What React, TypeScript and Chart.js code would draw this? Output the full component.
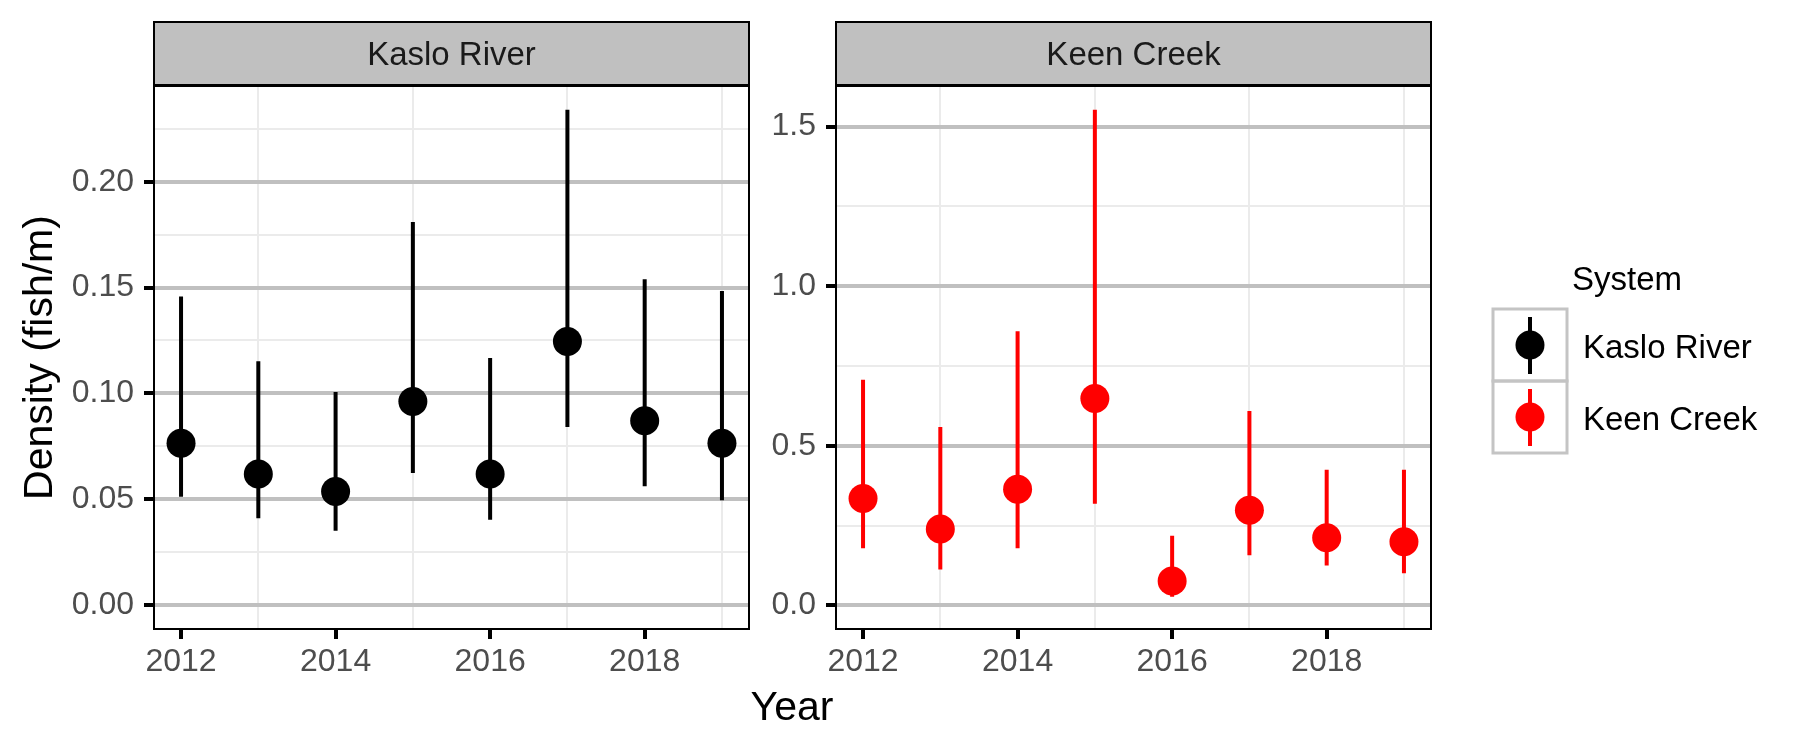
import React, { useEffect, useRef } from "react";
import { Chart, registerables } from "chart.js";

Chart.register(...registerables);

const FONT = '"Liberation Sans", Arial, Helvetica, sans-serif';

// ---- categories / ticks ----
const years = [2012, 2013, 2014, 2015, 2016, 2017, 2018, 2019];
const xTickYears = [2012, 2014, 2016, 2018];
const xTickLabels = ["2012", "2014", "2016", "2018"];

// ---- Kaslo River ----
const kasloDensity = [0.0764, 0.0619, 0.0536, 0.0962, 0.0619, 0.1245, 0.0871, 0.0764];
const kasloLower = [0.0511, 0.0409, 0.0351, 0.0623, 0.0402, 0.0841, 0.0561, 0.0495];
const kasloUpper = [0.1458, 0.1152, 0.1006, 0.181, 0.1167, 0.2341, 0.154, 0.1484];
const kasloYTicks = [0, 0.05, 0.1, 0.15, 0.2];
const kasloYTickLabels = ["0.00", "0.05", "0.10", "0.15", "0.20"];
const kasloYMinor = [0.025, 0.075, 0.125, 0.175, 0.225];

// ---- Keen Creek ----
const keenDensity = [0.335, 0.239, 0.364, 0.648, 0.076, 0.298, 0.212, 0.199];
const keenLower = [0.179, 0.112, 0.179, 0.318, 0.027, 0.157, 0.125, 0.101];
const keenUpper = [0.707, 0.559, 0.859, 1.5525, 0.218, 0.609, 0.425, 0.425];
const keenYTicks = [0, 0.5, 1, 1.5];
const keenYTickLabels = ["0.0", "0.5", "1.0", "1.5"];
const keenYMinor = [0.25, 0.75, 1.25];

// ---- legend / titles ----
const systems = ["Kaslo River", "Keen Creek"];
const systemColors = ["#000000", "#FF0000"];
const legendTitle = "System";
const xTitle = "Year";
const yTitle = "Density (fish/m)";

const near = (a: number, b: number) => Math.abs(a - b) < 1e-9;
const TRANSPARENT = "rgba(0,0,0,0)";

const panelDecor = {
  id: "panelDecor",
  afterDraw(chart: any, _args: any, opts: any) {
    const { ctx, chartArea: a } = chart;
    ctx.save();
    // strip
    ctx.fillStyle = "#C0C0C0";
    ctx.fillRect(a.left, 22, a.right - a.left, 63);
    ctx.strokeStyle = "#000";
    ctx.lineWidth = 2;
    ctx.strokeRect(a.left, 22, a.right - a.left, 63);
    ctx.fillStyle = "#1A1A1A";
    ctx.font = `33px ${FONT}`;
    ctx.textAlign = "center";
    ctx.textBaseline = "alphabetic";
    ctx.fillText(opts.title, (a.left + a.right) / 2, 65);
    // panel border
    ctx.strokeStyle = "#000";
    ctx.lineWidth = 2;
    ctx.strokeRect(a.left, a.top, a.right - a.left, a.bottom - a.top);
    ctx.restore();
  },
};

const axisTitles = {
  id: "axisTitles",
  afterDraw(chart: any) {
    const { ctx } = chart;
    ctx.save();
    ctx.fillStyle = "#000";
    ctx.font = `41px ${FONT}`;
    ctx.textAlign = "center";
    ctx.textBaseline = "alphabetic";
    ctx.fillText(xTitle, 792, 720);
    ctx.translate(52, 357.5);
    ctx.rotate(-Math.PI / 2);
    ctx.fillText(yTitle, 0, 0);
    ctx.restore();
  },
};

const legendDraw = {
  id: "legendDraw",
  afterDraw(chart: any) {
    const { ctx } = chart;
    ctx.save();
    ctx.fillStyle = "#000";
    ctx.font = `33px ${FONT}`;
    ctx.textAlign = "left";
    ctx.textBaseline = "alphabetic";
    ctx.fillText(legendTitle, 1572, 290);
    systems.forEach((name, i) => {
      const y0 = 309 + i * 72;
      ctx.strokeStyle = "#C4C4C4";
      ctx.lineWidth = 3;
      ctx.strokeRect(1493, y0, 74, 72);
      ctx.strokeStyle = systemColors[i];
      ctx.lineWidth = 4;
      ctx.beginPath();
      ctx.moveTo(1530, y0 + 8);
      ctx.lineTo(1530, y0 + 65);
      ctx.stroke();
      ctx.fillStyle = systemColors[i];
      ctx.beginPath();
      ctx.arc(1530, y0 + 36, 14.5, 0, Math.PI * 2);
      ctx.fill();
      ctx.fillStyle = "#000";
      ctx.fillText(name, 1583, y0 + 49);
    });
    ctx.restore();
  },
};

function buildConfig(p: any): any {
  const points = years.map((x, i) => ({ x, y: p.density[i] }));
  const bars = years.flatMap((x, i) => [
    { x, y: p.lower[i] },
    { x, y: p.upper[i] },
    { x, y: null },
  ]);
  const yTicks = [...p.yMajor, ...p.yMinor].sort((a: number, b: number) => a - b);
  const isMajorY = (c: any) => !!c.tick && p.yMajor.some((m: number) => near(m, c.tick.value));
  const isMajorX = (c: any) => !!c.tick && xTickYears.some((m) => near(m, c.tick.value));
  return {
    type: "scatter",
    data: {
      datasets: [
        {
          type: "scatter",
          data: points,
          backgroundColor: p.color,
          borderColor: p.color,
          pointRadius: 14.5,
          pointHoverRadius: 14.5,
          pointBorderWidth: 0,
          order: 0,
        },
        {
          type: "line",
          data: bars,
          borderColor: p.color,
          borderWidth: 4,
          pointRadius: 0,
          pointHoverRadius: 0,
          spanGaps: false,
          fill: false,
          tension: 0,
          order: 1,
        },
      ],
    },
    options: {
      responsive: false,
      animation: false,
      devicePixelRatio: 1,
      events: [],
      layout: { padding: { left: p.padLeft, right: p.padRight, top: 86, bottom: 61 } },
      plugins: {
        legend: { display: false },
        tooltip: { enabled: false },
        panelDecor: { title: p.title },
      },
      scales: {
        x: {
          type: "linear",
          min: 2011.65,
          max: 2019.35,
          afterBuildTicks: (s: any) => {
            s.ticks = years.map((v) => ({ value: v }));
          },
          afterFit: (s: any) => {
            s.height = 60;
          },
          grid: {
            color: (c: any) => (isMajorX(c) ? TRANSPARENT : "#EBEBEB"),
            lineWidth: 2,
            tickColor: (c: any) => (isMajorX(c) ? "#000" : TRANSPARENT),
            tickWidth: 4,
            tickLength: 10,
            drawTicks: true,
          },
          border: { display: false },
          ticks: {
            autoSkip: false,
            maxRotation: 0,
            minRotation: 0,
            padding: 4,
            color: "#4D4D4D",
            font: { family: FONT, size: 32 },
            callback: (v: number) => {
              const i = xTickYears.findIndex((m) => near(m, v));
              return i >= 0 ? xTickLabels[i] : "";
            },
          },
        },
        y: {
          type: "linear",
          min: p.yMin,
          max: p.yMax,
          afterBuildTicks: (s: any) => {
            s.ticks = yTicks.map((v: number) => ({ value: v }));
          },
          afterFit: (s: any) => {
            s.width = p.yAxisWidth;
          },
          grid: {
            color: (c: any) => (isMajorY(c) ? "#C0C0C0" : "#EBEBEB"),
            lineWidth: (c: any) => (isMajorY(c) ? 4 : 2),
            tickColor: (c: any) => (isMajorY(c) ? "#000" : TRANSPARENT),
            tickWidth: 4,
            tickLength: 10,
            drawTicks: true,
          },
          border: { display: false },
          ticks: {
            autoSkip: false,
            padding: 10,
            color: "#4D4D4D",
            font: { family: FONT, size: 32 },
            callback: (v: number) => {
              const i = p.yMajor.findIndex((m: number) => near(m, v));
              return i >= 0 ? p.yMajorLabels[i] : "";
            },
          },
        },
      },
    },
    plugins: [panelDecor, p.extra],
  };
}

export default function App() {
  const leftRef = useRef<HTMLCanvasElement | null>(null);
  const rightRef = useRef<HTMLCanvasElement | null>(null);

  useEffect(() => {
    if (!leftRef.current || !rightRef.current) return;
    const left = new Chart(
      leftRef.current,
      buildConfig({
        title: systems[0],
        color: systemColors[0],
        density: kasloDensity,
        lower: kasloLower,
        upper: kasloUpper,
        yMin: -0.0114,
        yMax: 0.2453,
        yMajor: kasloYTicks,
        yMajorLabels: kasloYTickLabels,
        yMinor: kasloYMinor,
        padLeft: 0,
        padRight: 1051,
        yAxisWidth: 154,
        extra: axisTitles,
      })
    );
    const right = new Chart(
      rightRef.current,
      buildConfig({
        title: systems[1],
        color: systemColors[1],
        density: keenDensity,
        lower: keenLower,
        upper: keenUpper,
        yMin: -0.074,
        yMax: 1.627,
        yMajor: keenYTicks,
        yMajorLabels: keenYTickLabels,
        yMinor: keenYMinor,
        padLeft: 760,
        padRight: 369,
        yAxisWidth: 76,
        extra: legendDraw,
      })
    );
    return () => {
      left.destroy();
      right.destroy();
    };
  }, []);

  const canvasStyle: React.CSSProperties = { position: "absolute", left: 0, top: 0 };
  return (
    <div
      style={{
        position: "fixed",
        left: 0,
        top: 0,
        width: 1800,
        height: 750,
        background: "#ffffff",
      }}
    >
      <canvas ref={leftRef} width={1800} height={750} style={canvasStyle} />
      <canvas ref={rightRef} width={1800} height={750} style={canvasStyle} />
    </div>
  );
}
